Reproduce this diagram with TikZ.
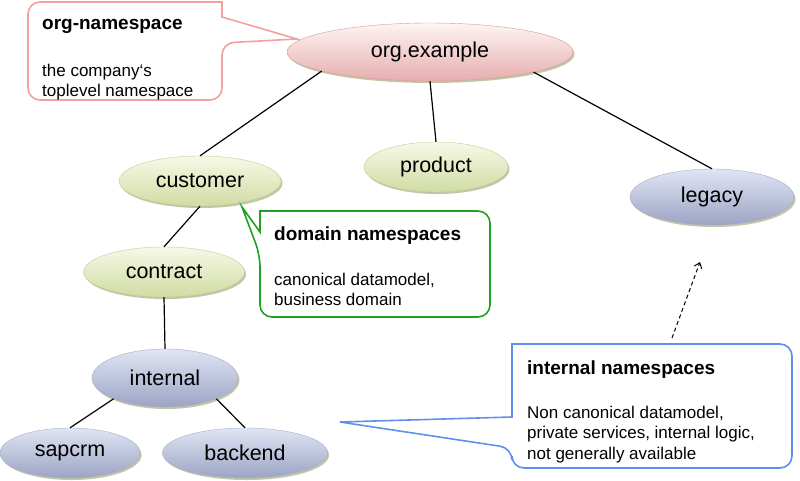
\documentclass[tikz,border=0pt]{standalone}
\usepackage{fontspec}
\setmainfont{Liberation Sans}
\usetikzlibrary{shapes,shadows,arrows.meta}

\definecolor{orgtop}{HTML}{FEF4F4}
\definecolor{orgbottom}{HTML}{E6AEAE}
\definecolor{orgline}{HTML}{D89A9A}
\definecolor{domtop}{HTML}{F6F9E8}
\definecolor{dombottom}{HTML}{D0DCA2}
\definecolor{domline}{HTML}{C2CE96}
\definecolor{inttop}{HTML}{E0E5F4}
\definecolor{intbottom}{HTML}{9CA4C4}
\definecolor{intline}{HTML}{A6AECA}
\definecolor{nsshadow}{HTML}{A8AC80}
\definecolor{notepink}{HTML}{F4A0A0}
\definecolor{notegreen}{HTML}{22A022}
\definecolor{noteblue}{HTML}{6090EE}

\tikzset{
  ns/.style={ellipse, inner sep=0pt, font=\fontsize{21.5}{24}\selectfont,
    drop shadow={shadow xshift=1.5pt, shadow yshift=-2pt, fill=nsshadow, opacity=0.7}},
  orgns/.style={ns, draw=orgline, top color=orgtop, bottom color=orgbottom},
  domns/.style={ns, draw=domline, top color=domtop, bottom color=dombottom},
  intns/.style={ns, draw=intline, top color=inttop, bottom color=intbottom},
  nsline/.style={draw, line width=1.2pt},
  nshead/.style={anchor=base west, inner sep=0pt, font=\bfseries\fontsize{19}{22}\selectfont},
  nstext/.style={anchor=north west, inner sep=0pt, align=left, font=\fontsize{17}{20.5}\selectfont},
  note/.style={line width=1.6pt, fill=white}
}

\begin{document}
\begin{tikzpicture}[x=1pt,y=-1pt]
    \useasboundingbox (0,0) rectangle (800,480);

    % namespaces
    \node[orgns, minimum width=286pt, minimum height=58pt] (org) at (430,52) {org.example};
    \node[domns, minimum width=144pt, minimum height=50pt] (product) at (436,167) {product};
    \node[domns, minimum width=162pt, minimum height=50pt] (customer) at (200,181) {customer};
    \node[domns, minimum width=161pt, minimum height=50pt] (contract) at (164,272) {contract};
    \node[intns, minimum width=164pt, minimum height=56pt] (legacy) at (712,197) {legacy};
    \node[intns, minimum width=146pt, minimum height=58pt] (internal) at (165,378) {internal};
    \node[intns, minimum width=140pt, minimum height=50pt] (sapcrm) at (70,453) {sapcrm};
    \node[intns, minimum width=165pt, minimum height=50pt] (backend) at (245,453) {backend};

    \draw[nsline] (org.190) -- (customer.north);
    \draw[nsline] (org.south) -- (product.north);
    \draw[nsline] (org.-11) -- (legacy.north);
    \draw[nsline] (customer.south) -- (contract.north);
    \draw[nsline] (contract.south) -- (internal.north);
    \draw[nsline] (internal.202) -- (sapcrm.north);
    \draw[nsline] (internal.-22) -- (backend.north);

    % callouts
    \draw[note, draw=notepink] (125,2) [rounded corners=12pt] -- (28,2) -- (28,100) -- (222,100)
        -- (222,43) [sharp corners] -- (297,39) -- (222,17) -- (222,2) [rounded corners=12pt] -- cycle;
    \node[nshead] (orghead) at (42,29) {org-namespace};
    \node[nstext] (orgtext) at (42,63.6) {the company‘s\\toplevel namespace};

    \draw[note, draw=notegreen] (375,211) [rounded corners=12pt] -- (490,211) -- (490,317) -- (260,317)
        -- (260,255) [sharp corners] -- (242,207) -- (260,232) -- (260,211) [rounded corners=12pt] -- cycle;
    \node[nshead] (domhead) at (274,240) {domain namespaces};
    \node[nstext] (domtext) at (274,272.6) {canonical datamodel,\\business domain};

    \draw[note, draw=noteblue] (650,344) [rounded corners=12pt] -- (792,344) -- (792,468) -- (512,468)
        -- (512,448) [sharp corners] -- (340,422) -- (512,417) -- (512,344) [rounded corners=12pt] -- cycle;
    \node[nshead] (inthead) at (527,374) {internal namespaces};
    \node[nstext] (inttext) at (527,405.6) {Non canonical datamodel,\\private services, internal logic,\\not generally available};

    \coordinate (arrowfrom) at (672,338);
    \coordinate (arrowto) at (700,262);
    \draw[line width=1pt, dash pattern=on 4pt off 3pt, -{Straight Barb[length=5pt,width=8pt]}] (arrowfrom) -- (arrowto);
\end{tikzpicture}
\end{document}
